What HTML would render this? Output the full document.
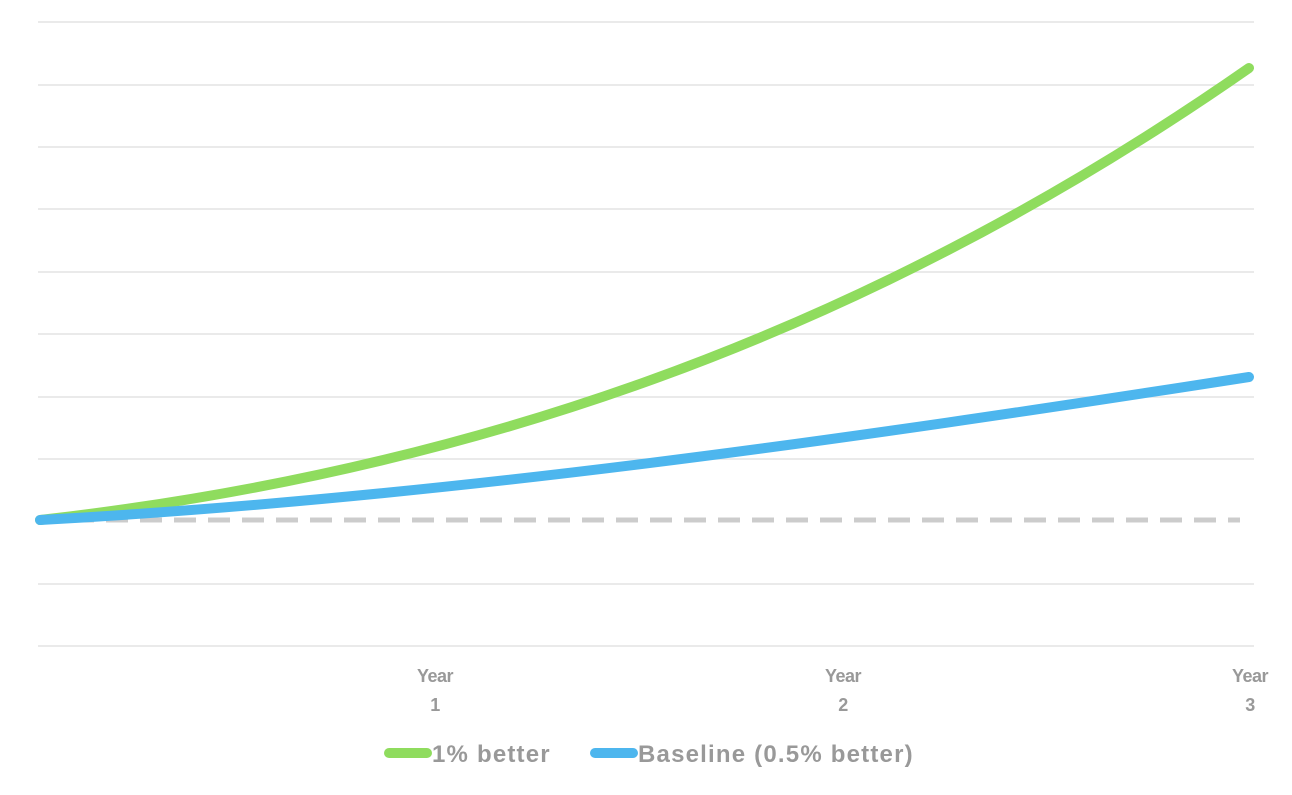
<!DOCTYPE html>
<html><head><meta charset="utf-8"><style>
html,body{margin:0;padding:0;background:#fff;}
</style></head><body>
<svg width="1292" height="790" xmlns="http://www.w3.org/2000/svg">
<g stroke="#e3e3e3" stroke-width="1.5">
<line x1="38" x2="1254" y1="22" y2="22"/>
<line x1="38" x2="1254" y1="85" y2="85"/>
<line x1="38" x2="1254" y1="147" y2="147"/>
<line x1="38" x2="1254" y1="209" y2="209"/>
<line x1="38" x2="1254" y1="272" y2="272"/>
<line x1="38" x2="1254" y1="334" y2="334"/>
<line x1="38" x2="1254" y1="397" y2="397"/>
<line x1="38" x2="1254" y1="459" y2="459"/>
<line x1="38" x2="1254" y1="584" y2="584"/>
<line x1="38" x2="1254" y1="646" y2="646"/>
</g>
<line x1="38" x2="1240" y1="520" y2="520" stroke="#cccccc" stroke-width="5" stroke-dasharray="22 12"/>
<path d="M40,520 C443,474.3 846,349.2 1249,68" fill="none" stroke="#8fdc5e" stroke-width="10" stroke-linecap="round"/>
<path d="M40,520 C443,497.8 846,439.7 1249,377" fill="none" stroke="#4db6ee" stroke-width="10" stroke-linecap="round"/>
<g font-family="Liberation Sans, sans-serif" font-weight="bold" font-size="18" fill="#999" text-anchor="middle" letter-spacing="-0.5">
<text x="435" y="682">Year</text><text x="435" y="711">1</text>
<text x="843" y="682">Year</text><text x="843" y="711">2</text>
<text x="1250" y="682">Year</text><text x="1250" y="711">3</text>
</g>
<line x1="389" x2="427" y1="753" y2="753" stroke="#8fdc5e" stroke-width="10" stroke-linecap="round"/>
<line x1="595" x2="633" y1="753" y2="753" stroke="#4db6ee" stroke-width="10" stroke-linecap="round"/>
<g font-family="Liberation Sans, sans-serif" font-weight="bold" font-size="24" fill="#999" letter-spacing="1.2">
<text x="432" y="762">1% better</text>
<text x="638" y="762">Baseline (0.5% better)</text>
</g>
</svg>
</body></html>
